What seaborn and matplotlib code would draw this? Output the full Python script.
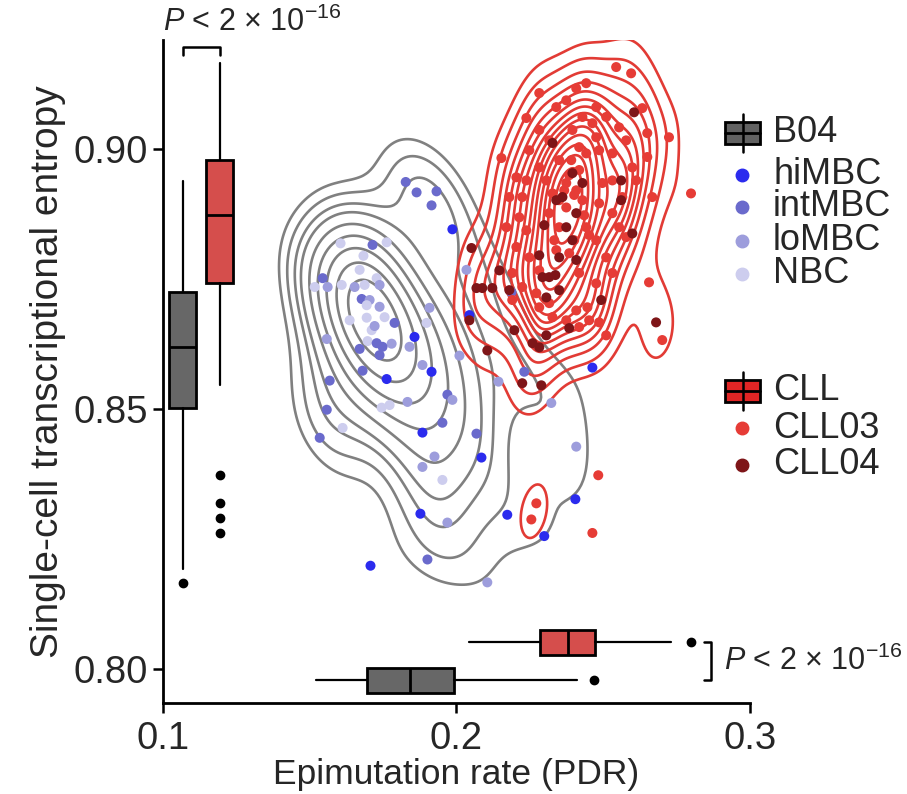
import numpy as np
import pandas as pd
import matplotlib
matplotlib.use("Agg")
import matplotlib.pyplot as plt
import seaborn as sns
from matplotlib.patches import Rectangle
from matplotlib.lines import Line2D

# ---------------- data ----------------
b_x = [0.1827, 0.1864, 0.1932, 0.1915, 0.1986, 0.1605, 0.1714, 0.1762, 0.1683, 0.1544,
       0.1517, 0.1561, 0.1609, 0.1670, 0.1728, 0.1653, 0.1687, 0.1738, 0.1677, 0.1738,
       0.1755, 0.1789, 0.1694, 0.1908, 0.1898, 0.1558, 0.1697, 0.1728, 0.1779, 0.1857,
       0.1670, 0.1738, 0.1840, 0.1748, 0.1680, 0.1884, 0.1915, 0.1762, 0.1568, 0.2010,
       0.1833, 0.1772, 0.1745, 0.1969, 0.1986, 0.1558, 0.1612, 0.1534, 0.1952, 0.1884,
       0.1925, 0.1884, 0.2068, 0.2085, 0.1952, 0.2408, 0.1877, 0.1969, 0.2173, 0.2405,
       0.2299, 0.1901, 0.1707, 0.2105, 0.2143, 0.2323, 0.2034, 0.2044, 0.2187, 0.2463,
       0.2231, 0.1711, 0.1636, 0.1704, 0.1694, 0.1721]
b_y = [0.8937, 0.8917, 0.8919, 0.8892, 0.8846, 0.8819, 0.8816, 0.8821, 0.8795, 0.8752,
       0.8735, 0.8735, 0.8739, 0.8768, 0.8752, 0.8735, 0.8739, 0.8739, 0.8712, 0.8697,
       0.8677, 0.8666, 0.8676, 0.8695, 0.8666, 0.8635, 0.8631, 0.8627, 0.8626, 0.8639,
       0.8616, 0.8604, 0.8620, 0.8620, 0.8574, 0.8585, 0.8572, 0.8558, 0.8555, 0.8603,
       0.8514, 0.8508, 0.8503, 0.8528, 0.8518, 0.8499, 0.8464, 0.8445, 0.8474, 0.8455,
       0.8409, 0.8389, 0.8453, 0.8407, 0.8364, 0.8428, 0.8299, 0.8282, 0.8297, 0.8327,
       0.8256, 0.8211, 0.8199, 0.8167, 0.8553, 0.8512, 0.8768, 0.8681, 0.8725, 0.8580,
       0.8572, 0.8652, 0.8671, 0.8710, 0.8700, 0.8660]
b_type = ["intMBC", "intMBC", "intMBC", "intMBC", "hiMBC", "NBC", "intMBC", "NBC", "NBC", "intMBC",
          "NBC", "loMBC", "NBC", "NBC", "NBC", "loMBC", "NBC", "loMBC", "intMBC", "loMBC",
          "NBC", "intMBC", "NBC", "loMBC", "NBC", "loMBC", "NBC", "intMBC", "loMBC", "hiMBC",
          "intMBC", "intMBC", "loMBC", "intMBC", "intMBC", "loMBC", "hiMBC", "hiMBC", "intMBC", "loMBC",
          "loMBC", "NBC", "NBC", "intMBC", "loMBC", "intMBC", "NBC", "intMBC", "intMBC", "hiMBC",
          "loMBC", "loMBC", "intMBC", "hiMBC", "NBC", "loMBC", "hiMBC", "loMBC", "hiMBC", "hiMBC",
          "hiMBC", "intMBC", "hiMBC", "loMBC", "loMBC", "loMBC", "loMBC", "hiMBC", "intMBC", "hiMBC",
          "intMBC", "NBC", "NBC", "loMBC", "NBC", "loMBC"]

cll03_x = [0.2544, 0.2595, 0.2282, 0.2408, 0.2442, 0.2238, 0.2153, 0.2633, 0.2650, 0.2724,
           0.2650, 0.2667, 0.2799, 0.2656, 0.2701, 0.2340, 0.2510, 0.2446, 0.2486, 0.2429,
           0.2463, 0.2395, 0.2476, 0.2282, 0.2316, 0.2418, 0.2442, 0.2486, 0.2531, 0.2578,
           0.2554, 0.2350, 0.2282, 0.2238, 0.2224, 0.2531, 0.2497, 0.2374, 0.2408, 0.2429,
           0.2486, 0.2531, 0.2554, 0.2578, 0.2214, 0.2238, 0.2204, 0.2248, 0.2282, 0.2190,
           0.2224, 0.2272, 0.2316, 0.2327, 0.2374, 0.2418, 0.2282, 0.2442, 0.2476, 0.2510,
           0.2531, 0.2476, 0.2418, 0.2384, 0.2350, 0.2316, 0.2374, 0.2327, 0.2306, 0.2565,
           0.2599, 0.2612, 0.2340, 0.2374, 0.2476, 0.2510, 0.2204, 0.2180, 0.2170, 0.2248,
           0.2190, 0.2408, 0.2452, 0.2272, 0.2255, 0.2483, 0.2463, 0.2384, 0.2401, 0.2367,
           0.2418, 0.2350, 0.2435, 0.2391, 0.2452, 0.2333, 0.2401]
cll03_y = [0.9158, 0.9146, 0.9108, 0.9117, 0.9127, 0.9060, 0.8983, 0.9079, 0.9031, 0.9023,
           0.8985, 0.8908, 0.8915, 0.8744, 0.8633, 0.8806, 0.8642, 0.8696, 0.8667, 0.9062,
           0.9050, 0.9037, 0.9023, 0.9037, 0.9017, 0.9004, 0.8992, 0.8998, 0.8992, 0.9017,
           0.9042, 0.8979, 0.8965, 0.8940, 0.8908, 0.8940, 0.8935, 0.8935, 0.8921, 0.8902,
           0.8896, 0.8877, 0.8850, 0.8831, 0.8869, 0.8844, 0.8812, 0.8792, 0.8767, 0.8762,
           0.8735, 0.8723, 0.8704, 0.8677, 0.8671, 0.8658, 0.8696, 0.8850, 0.8825, 0.8792,
           0.8762, 0.8742, 0.8762, 0.8800, 0.8850, 0.8877, 0.8888, 0.8915, 0.8940, 0.8908,
           0.8965, 0.8940, 0.9081, 0.9094, 0.9081, 0.9062, 0.8946, 0.8908, 0.8850, 0.8998,
           0.8710, 0.8690, 0.8671, 0.8319, 0.8288, 0.8373, 0.8262, 0.8950, 0.8912, 0.8921,
           0.8960, 0.8902, 0.8873, 0.8979, 0.8835, 0.8825, 0.8825]

cll04_x = [0.2605, 0.2327, 0.2340, 0.2561, 0.2561, 0.2599, 0.2408, 0.2374, 0.2395, 0.2408,
           0.2316, 0.2293, 0.2337, 0.2051, 0.2146, 0.2068, 0.2088, 0.2122, 0.2044, 0.2105,
           0.2493, 0.2306, 0.2306, 0.2259, 0.2282, 0.2224, 0.2289, 0.2680, 0.2282, 0.2350,
           0.2395, 0.2429, 0.2361, 0.2384, 0.2180, 0.2197, 0.2299, 0.2350]
cll04_y = [0.9071, 0.9012, 0.8902, 0.8940, 0.8902, 0.8838, 0.8877, 0.8850, 0.8825, 0.8787,
           0.8754, 0.8754, 0.8758, 0.8810, 0.8767, 0.8733, 0.8733, 0.8733, 0.8671, 0.8613,
           0.8710, 0.8715, 0.8642, 0.8627, 0.8619, 0.8550, 0.8546, 0.8667, 0.8796, 0.8792,
           0.8954, 0.8935, 0.8908, 0.8656, 0.8729, 0.8652, 0.8854, 0.8729]

b_types = ["hiMBC", "intMBC", "loMBC", "NBC"]
b_colors = ["#2b2bee", "#6a6acc", "#9d9ddc", "#cdcdee"]
cll_samples = ["CLL03", "CLL04"]
cll_colors = ["#e63c36", "#7e1518"]

# box-plot summaries (entropy: vertical; PDR: horizontal)
groups = ["B04", "CLL"]
box_face = ["#676767", "#d54e4c"]
legend_box_face = ["#626262", "#e02525"]
ent_whislo = [0.8192, 0.8546]
ent_q1 = [0.8503, 0.8742]
ent_med = [0.8620, 0.8873]
ent_q3 = [0.8725, 0.8979]
ent_whishi = [0.8938, 0.9165]
ent_fliers = [[0.8166], [0.8373, 0.8319, 0.8290, 0.8262]]
pdr_whislo = [0.1520, 0.2044]
pdr_q1 = [0.1694, 0.2286]
pdr_med = [0.1840, 0.2381]
pdr_q3 = [0.1993, 0.2473]
pdr_whishi = [0.2412, 0.2731]
pdr_fliers = [[0.2470], [0.2800]]
p_label = "$P$ < 2 × 10$^{-16}$"

# ---------------- style ----------------
sns.set_style("white")
plt.rcParams["font.family"] = ["Liberation Sans", "DejaVu Sans"]
plt.rcParams["mathtext.fontset"] = "custom"
plt.rcParams["mathtext.rm"] = "Liberation Sans"
plt.rcParams["mathtext.it"] = "Liberation Sans:italic"
FS_TICK = 27.5
FS_LEG = 26
FS_P = 22

dfB = pd.DataFrame({"pdr": b_x, "entropy": b_y, "type": b_type})
dfC = pd.DataFrame({"pdr": cll03_x + cll04_x, "entropy": cll03_y + cll04_y,
                    "sample": ["CLL03"] * len(cll03_x) + ["CLL04"] * len(cll04_x)})

fig = plt.figure(figsize=(9.07, 7.94), dpi=100)
ax = fig.add_axes([0.1797, 0.1146, 0.6472, 0.835])

sns.kdeplot(data=dfB, x="pdr", y="entropy", levels=10, bw_adjust=1.0, thresh=0.12,
            color="#808080", linewidths=1.9, ax=ax)
sns.kdeplot(data=dfC, x="pdr", y="entropy", levels=15, bw_adjust=0.85, thresh=0.08,
            color="#e23b35", linewidths=1.9, ax=ax)
sns.scatterplot(data=dfB, x="pdr", y="entropy", hue="type", hue_order=b_types,
                palette=b_colors, s=52, linewidth=0, legend=False, ax=ax, zorder=3)
sns.scatterplot(data=dfC, x="pdr", y="entropy", hue="sample", hue_order=cll_samples,
                palette=cll_colors, s=52, linewidth=0, legend=False, ax=ax, zorder=3)

def stats(wl, q1, med, q3, wh, fl):
    return [dict(whislo=wl[i], q1=q1[i], med=med[i], q3=q3[i], whishi=wh[i], fliers=fl[i])
            for i in range(len(wl))]

common = dict(patch_artist=True, showcaps=False, manage_ticks=False,
              boxprops=dict(edgecolor="black", linewidth=2.0, zorder=4),
              medianprops=dict(color="black", linewidth=2.0, zorder=5),
              whiskerprops=dict(color="black", linewidth=1.6, zorder=4),
              flierprops=dict(marker="o", markerfacecolor="black", markeredgecolor="black",
                              markersize=6, zorder=4))
bv = ax.bxp(stats(ent_whislo, ent_q1, ent_med, ent_q3, ent_whishi, ent_fliers),
            positions=[0.1068, 0.1194], widths=0.0092, **common)
bh = ax.bxp(stats(pdr_whislo, pdr_q1, pdr_med, pdr_q3, pdr_whishi, pdr_fliers),
            positions=[0.7979, 0.8052], widths=0.0048, orientation="horizontal", **common)
for res in (bv, bh):
    for patch, fc in zip(res["boxes"], box_face):
        patch.set_facecolor(fc)
    for m in res["medians"]:
        m.set_zorder(6)

# p-value brackets
ax.plot([0.1068, 0.1068, 0.1194, 0.1194], [0.9181, 0.9196, 0.9196, 0.9181],
        color="black", lw=1.8, clip_on=False)
ax.text(0.1000, 0.9244, p_label, fontsize=FS_P, ha="left", va="center", clip_on=False)
ax.plot([0.2844, 0.2867, 0.2867, 0.2844], [0.8052, 0.8052, 0.7979, 0.7979],
        color="black", lw=1.8, clip_on=False)
ax.text(0.2912, 0.8015, p_label, fontsize=FS_P, ha="left", va="center", clip_on=False)

ax.set_xlim(0.1, 0.3)
ax.set_ylim(0.7935, 0.921)
ax.set_xticks([0.1, 0.2, 0.3])
ax.set_xticklabels(["0.1", "0.2", "0.3"])
ax.set_yticks([0.80, 0.85, 0.90])
ax.set_yticklabels(["0.80", "0.85", "0.90"])
ax.tick_params(labelsize=FS_TICK, length=7, width=1.8, direction="out", color="black",
               left=True, bottom=True)
ax.tick_params(axis="x", pad=6)
ax.tick_params(axis="y", pad=4)
for s in ["top", "right"]:
    ax.spines[s].set_visible(False)
for s in ["left", "bottom"]:
    ax.spines[s].set_linewidth(2.0)
    ax.spines[s].set_color("black")
ax.set_xlabel("Epimutation rate (PDR)", fontsize=25.5, labelpad=1)
ax.set_ylabel("Single-cell transcriptional entropy", fontsize=28, labelpad=5)

# ---------------- legend (drawn in figure pixels) ----------------
W, H = 907.0, 794.0
def fxy(px, py):
    return px / W, 1 - py / H

def box_icon(cy, face):
    x0, _ = fxy(725, 0)
    w = 35 / W
    bh_ = 22 / H
    _, yc = fxy(0, cy)
    fig.add_artist(Line2D([x0 + w / 2] * 2, [yc - bh_ / 2 - 8 / H, yc + bh_ / 2 + 8 / H],
                          color="black", lw=1.8, transform=fig.transFigure))
    fig.add_artist(Rectangle((x0, yc - bh_ / 2), w, bh_, facecolor=face, edgecolor="black",
                             lw=2.0, transform=fig.transFigure))
    fig.add_artist(Line2D([x0, x0 + w], [yc, yc], color="black", lw=2.0,
                          transform=fig.transFigure))

def dot_icon(cy, color):
    x, y = fxy(742, cy)
    fig.add_artist(Line2D([x], [y], marker="o", ls="", markerfacecolor=color,
                          markeredgecolor=color, markersize=9, transform=fig.transFigure))

def label(cy, txt):
    x, y = fxy(773, cy)
    fig.text(x, y, txt, fontsize=FS_LEG, ha="left", va="center")

rows_b = [175, 207, 241, 274]
box_icon(133, legend_box_face[0]); label(133, groups[0])
for cy, c, t in zip(rows_b, b_colors, b_types):
    dot_icon(cy, c); label(cy, t)
rows_c = [428, 465]
box_icon(391, legend_box_face[1]); label(391, groups[1])
for cy, c, t in zip(rows_c, cll_colors, cll_samples):
    dot_icon(cy, c); label(cy, t)

fig.savefig("out.png", dpi=100)
